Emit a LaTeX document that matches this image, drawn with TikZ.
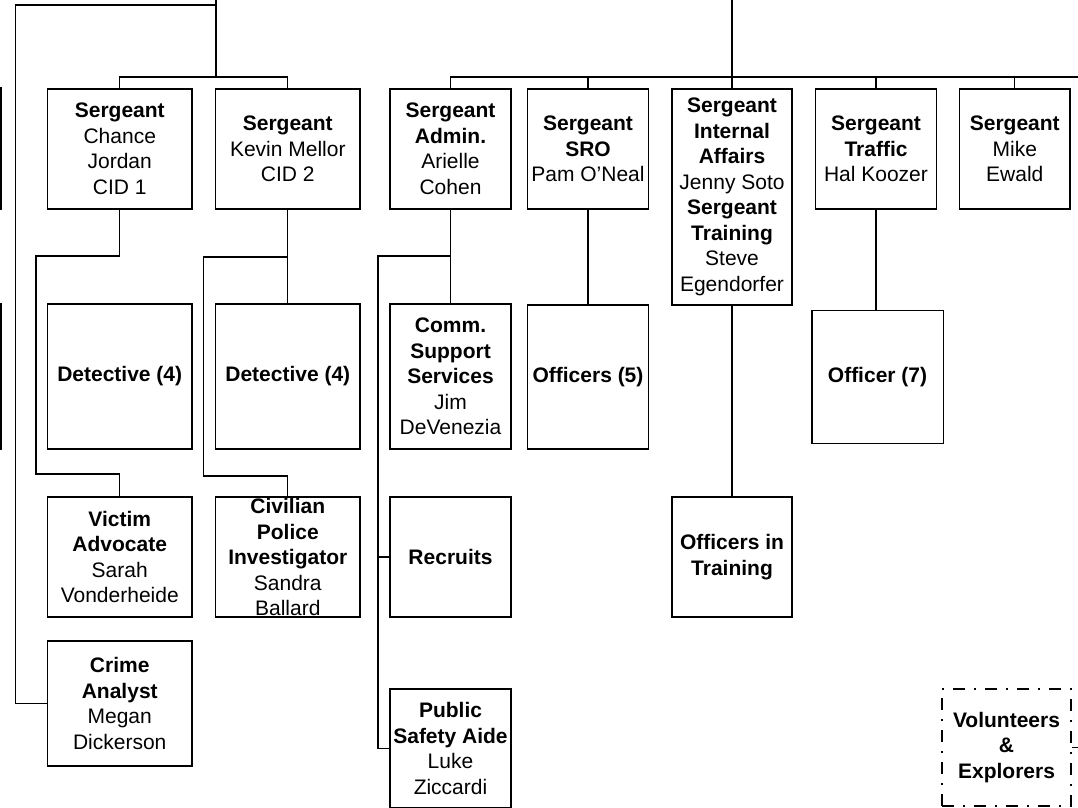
\documentclass[tikz,border=0pt]{standalone}
\usepackage{fontspec}
\setmainfont{Liberation Sans}
\tikzstyle{unit}=[draw, rectangle, line width=1.4pt, inner sep=0pt, align=center, font=\fontsize{21}{25.5}\selectfont]
\tikzstyle{partial}=[draw, rectangle, line width=1.4pt, inner sep=0pt]
\tikzstyle{reserve}=[unit, line width=1.2pt, dash pattern=on 12pt off 9pt on 2pt off 9pt]
\tikzstyle{link}=[draw, line width=1.1pt]

\begin{document}
\begin{tikzpicture}[x=1pt, y=-1pt]

    \useasboundingbox (0,0) rectangle (1078,807);
    \fill[white] (0,0) rectangle (1078,807);
    \clip (0,0) rectangle (1078,807);

    % sergeants
    \foreach \x/\y/\bw/\bh/\name/\txt in {
        119.75/149/144.5/120/chance/{\textbf{Sergeant}\\Chance\\Jordan\\CID 1},
        287.8/149/144.4/120/mellor/{\textbf{Sergeant}\\Kevin Mellor\\CID 2},
        450.5/149/121/120/admin/{\textbf{Sergeant}\\\textbf{Admin.}\\Arielle\\Cohen},
        588/149/120.7/120/sro/{\textbf{Sergeant}\\\textbf{SRO}\\Pam O’Neal},
        732/197/120/216/affairs/{\textbf{Sergeant}\\\textbf{Internal}\\\textbf{Affairs}\\Jenny Soto\\\textbf{Sergeant}\\\textbf{Training}\\Steve\\Egendorfer},
        876/149/120.8/120/traffic/{\textbf{Sergeant}\\\textbf{Traffic}\\Hal Koozer},
        1014.8/149/110.3/120/ewald/{\textbf{Sergeant}\\Mike\\Ewald}}
        \node[unit, minimum width=\bw pt, minimum height=\bh pt] (\name) at (\x,\y) {\txt};

    % second row
    \foreach \x/\y/\bw/\bh/\name/\txt in {
        119.75/376.5/144.5/145/squadA/{\textbf{Detective (4)}},
        287.8/376.5/144.4/145/squadB/{\textbf{Detective (4)}},
        450.5/376.5/121/145/comm/{\textbf{Comm.}\\\textbf{Support}\\\textbf{Services}\\Jim\\DeVenezia},
        588/377/120.7/144/officersA/{\textbf{Officers (5)}},
        877.5/376.8/131.4/133/officersB/{\textbf{Officer (7)}}}
        \node[unit, minimum width=\bw pt, minimum height=\bh pt] (\name) at (\x,\y) {\txt};

    % third and fourth row
    \foreach \x/\y/\bw/\bh/\name/\txt in {
        119.75/557/144.5/120/victim/{\textbf{Victim}\\\textbf{Advocate}\\Sarah\\Vonderheide},
        287.8/557/144.4/120/civilian/{\textbf{Civilian}\\\textbf{Police}\\\textbf{Investigator}\\Sandra\\Ballard},
        450.5/557/121/120/recruits/{\textbf{Recruits}},
        732/557/120/120/training/{\textbf{Officers in}\\\textbf{Training}},
        119.75/703.5/144.5/125/analyst/{\textbf{Crime}\\\textbf{Analyst}\\Megan\\Dickerson},
        450.5/748.5/121/119/aide/{\textbf{Public}\\\textbf{Safety Aide}\\Luke\\Ziccardi}}
        \node[unit, minimum width=\bw pt, minimum height=\bh pt] (\name) at (\x,\y) {\txt};

    \node[reserve, minimum width=129pt, minimum height=117pt] (volunteers) at (1006.5,747.5) {\textbf{Volunteers}\\\textbf{\&}\\\textbf{Explorers}};

    % boxes cut by the left edge
    \node[partial, minimum width=120pt, minimum height=121pt] (leftA) at (-59.2,148.5) {};
    \node[partial, minimum width=120pt, minimum height=145pt] (leftB) at (-59.2,376.5) {};

    \coordinate (chiefA) at (216,0);
    \coordinate (cidbar) at (216,77);
    \coordinate (cidline) at (216,5);
    \coordinate (chiefB) at (732,0);
    \coordinate (patbar) at (732,77);
    \coordinate (patend) at (1078,77);
    \coordinate (advA) at (36,256);
    \coordinate (advB) at (36,474);
    \coordinate (civA) at (203.5,257);
    \coordinate (civB) at (203.5,476);
    \coordinate (admA) at (378,256);
    \coordinate (volend) at (1078,747.5);

    \path[link] (chiefA) -- (cidbar);
    \path[link] (chance.north) |- (cidbar) -| (mellor.north);
    \path[link] (cidline) -| ([xshift=-31pt]analyst.west) -- (analyst.west);
    \path[link] (chance.south) |- (advA) -- (advB) -| (victim.north);
    \path[link] (mellor.south) -- (squadB.north);
    \path[link] (mellor.south) |- (civA) -- (civB) -| (civilian.north);

    \path[link] (chiefB) -- (patbar);
    \path[link] (admin.north) |- (patend);
    \foreach \name in {sro, affairs, traffic, ewald}
        \path[link] (\name.north) -- (\name.north |- patbar);
    \path[link] (admin.south) -- (comm.north);
    \path[link] (admin.south) |- (admA) |- (aide.west);
    \path[link] (admA) |- (recruits.west);
    \path[link] (sro.south) -- (officersA.north);
    \path[link] (affairs.south) -- (training.north);
    \path[link] (traffic.south) -- (traffic.south |- officersB.north);
    \path[link] (volunteers.east) -- (volend);

\end{tikzpicture}
\end{document}
